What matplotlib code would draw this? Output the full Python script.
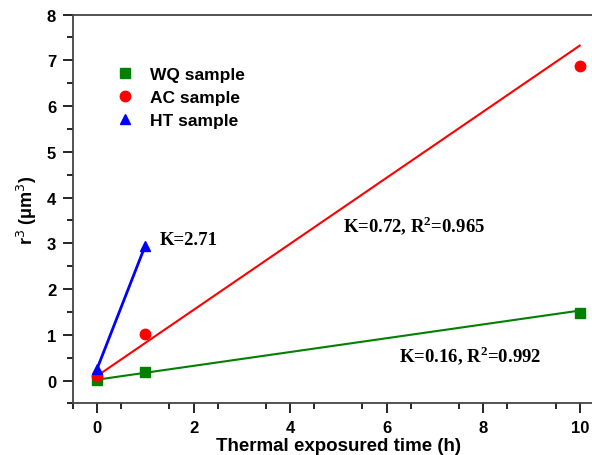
import matplotlib
matplotlib.use("Agg")
import matplotlib.pyplot as plt
import numpy as np

# measured data
time_pts = [0, 1, 10]
wq_r3 = [0.02, 0.18, 1.48]
ac_r3 = [0.10, 1.02, 6.88]
ht_time = [0, 1]
ht_r3 = [0.25, 2.95]

# fitted lines (endpoints)
fit_x = [0, 10]
wq_fit = [0.02, 1.53]
ac_fit = [0.10, 7.32]

plt.rcParams['font.family'] = ['Liberation Sans', 'DejaVu Sans']

fig = plt.figure(figsize=(5.92, 4.56), dpi=100)
ax = fig.add_axes([0.123, 0.113, 0.897, 0.853])

ax.plot(fit_x, wq_fit, color='#008000', lw=1.5)
ax.plot(fit_x, ac_fit, color='#ff0000', lw=1.5)
ax.plot(ht_time, ht_r3, color='#0000ff', lw=2)

ax.plot(time_pts, wq_r3, 's', color='#008000', ms=6.5, ls='none', label='WQ sample')
ax.plot(time_pts, ac_r3, 'o', color='#ff0000', ms=7.5, ls='none', label='AC sample')
ax.plot(ht_time, ht_r3, '^', color='#0000ff', ms=7.5, ls='none', label='HT sample')

ax.set_xlim(-0.5, 10.5)
ax.set_ylim(-0.5, 8)
ax.set_xticks([0, 2, 4, 6, 8, 10])
ax.set_xticks(np.arange(-0.5, 10.6, 1), minor=True)
ax.set_yticks(range(0, 9))
ax.set_yticks(np.arange(-0.5, 8, 0.5), minor=True)
ax.tick_params(which='major', length=7, width=1.2, labelsize=12, pad=5)
ax.tick_params(which='minor', length=4, width=1.2)
for lab in ax.get_xticklabels() + ax.get_yticklabels():
    lab.set_fontweight('bold')

for side in ['left', 'bottom', 'top']:
    ax.spines[side].set_linewidth(1.3)
    ax.spines[side].set_color('#444444')
ax.spines['right'].set_visible(False)

ax.set_xlabel('Thermal exposured time (h)', fontsize=13.5, fontweight='bold', labelpad=1)
ax.set_ylabel(r'r$^3$ ($\mathregular{\mu}$m$^3$)', fontsize=13, fontweight='bold', labelpad=6)

ax.legend(loc='upper left', bbox_to_anchor=(0.082, 0.865), frameon=False,
          prop={'weight': 'bold', 'size': 12.5}, handlelength=1.0, handletextpad=0.94,
          labelspacing=0.45, borderpad=0, borderaxespad=0)

serif = {'family': 'Liberation Serif', 'weight': 'bold', 'size': 13.5}
ax.text(1.3, 2.98, 'K=2.71', fontdict=serif)
ax.text(5.1, 3.25, r'K=0.72, R$^\mathregular{2}$=0.965', fontdict=serif)
ax.text(6.25, 0.4, r'K=0.16, R$^\mathregular{2}$=0.992', fontdict=serif)

fig.savefig('out.png', dpi=100)
